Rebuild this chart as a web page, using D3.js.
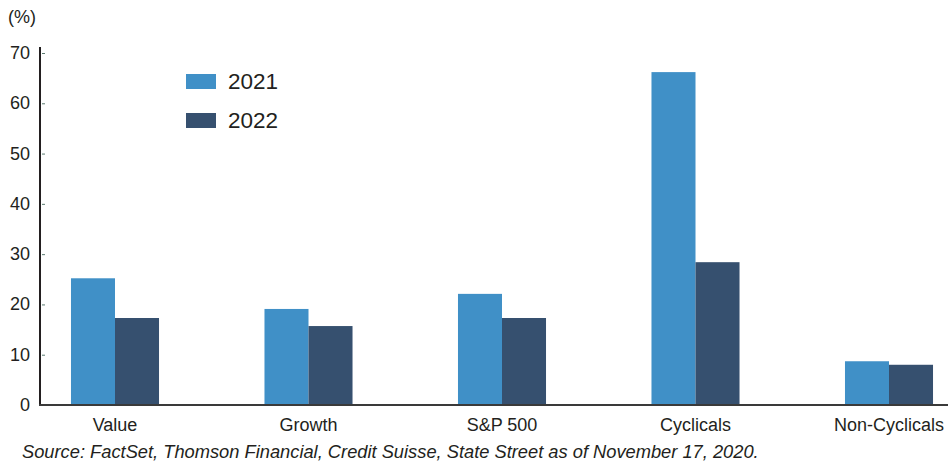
<!DOCTYPE html>
<html><head><meta charset="utf-8">
<script src="https://cdn.jsdelivr.net/npm/d3@7"></script>
<style>body{margin:0;background:#fff}svg{display:block;font-family:"Liberation Sans",Arial,sans-serif}</style>
</head><body><svg id="c" width="948" height="463"></svg>
<script>
const categories = ["Value", "Growth", "S&P 500", "Cyclicals", "Non-Cyclicals"];
const seriesNames = ["2021", "2022"];
const values2021 = [25.2, 19.1, 22.1, 66.2, 8.7];
const values2022 = [17.3, 15.7, 17.3, 28.4, 8.0];
const yTicks = [0, 10, 20, 30, 40, 50, 60, 70];
const colors = ["#4090c7", "#36506f"];

const svg = d3.select("#c");
const y = d3.scaleLinear().domain([0, 70]).range([405, 53]);
const x = d3.scaleBand().domain(categories).range([18.25, 985.75]).paddingInner(0.545).paddingOuter(0.2725);
const xs = d3.scaleBand().domain(seriesNames).range([0, x.bandwidth()]);
const series = [values2021, values2022];

// bars
series.forEach((vals, si) => {
  svg.append("g").selectAll("rect").data(categories).join("rect")
    .attr("x", (d) => x(d) + xs(seriesNames[si]))
    .attr("width", xs.bandwidth())
    .attr("y", (d, i) => y(vals[i]))
    .attr("height", (d, i) => y(0) - y(vals[i]))
    .attr("fill", colors[si]);
});

// y axis
const yAxis = d3.axisRight(y).tickValues(yTicks).tickSize(3).tickFormat("");
const gy = svg.append("g").attr("transform", "translate(42,0)").call(yAxis);
gy.select(".domain").remove();
gy.selectAll(".tick line").attr("stroke", "#5a7a70");
svg.append("line").attr("x1", 40).attr("x2", 40).attr("y1", 47).attr("y2", 406).attr("stroke", "#231f20").attr("stroke-width", 2);
svg.append("g").selectAll("text").data(yTicks).join("text")
  .attr("x", 30).attr("y", (d) => y(d) + 6).attr("text-anchor", "end")
  .attr("font-size", 18).attr("fill", "#231f20").text((d) => d);

// x baseline
svg.append("line").attr("x1", 39).attr("x2", 948).attr("y1", y(0)).attr("y2", y(0)).attr("stroke", "#3a3a3a").attr("stroke-width", 2);
const xAxis = d3.axisBottom(x).tickSize(0);
const gx = svg.append("g").attr("transform", `translate(0,${y(0)})`).call(xAxis);
gx.select(".domain").remove();
gx.selectAll("text").attr("font-size", 18).attr("fill", "#231f20").attr("dy", null).attr("y", 26)
  .style("font-family", '"Liberation Sans",Arial,sans-serif');

// unit label
svg.append("text").attr("x", 8).attr("y", 23).attr("font-size", 18).attr("fill", "#231f20").text("(%)");

// legend
seriesNames.forEach((n, i) => {
  svg.append("rect").attr("x", 186).attr("y", 74 + i * 39).attr("width", 30).attr("height", 15).attr("fill", colors[i]);
  svg.append("text").attr("x", 228).attr("y", 89 + i * 39).attr("font-size", 22.5).attr("fill", "#231f20").text(n);
});

// source
svg.append("text").attr("x", 22).attr("y", 458).attr("font-size", 18.3).attr("font-style", "italic").attr("fill", "#231f20")
  .text("Source: FactSet, Thomson Financial, Credit Suisse, State Street as of November 17, 2020.");
</script></body></html>
